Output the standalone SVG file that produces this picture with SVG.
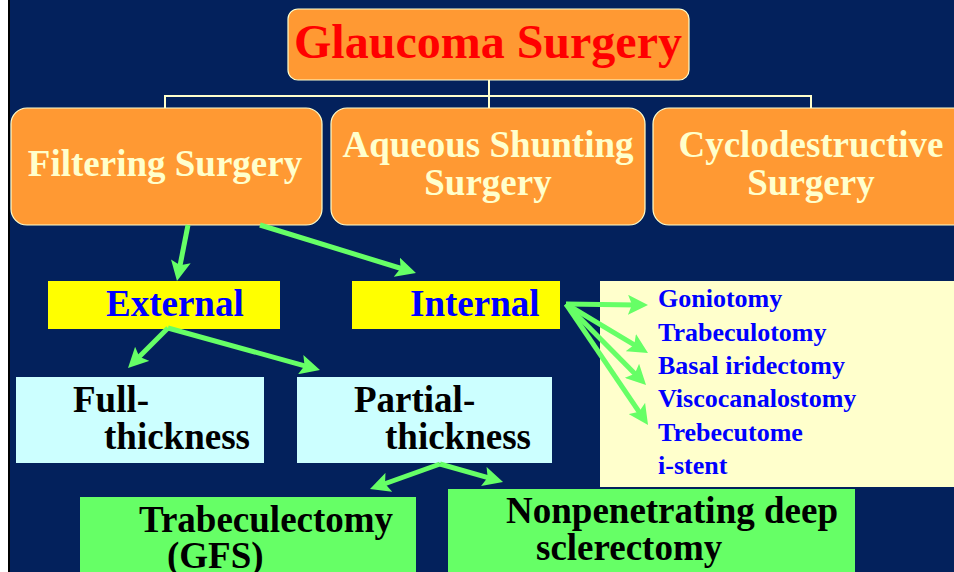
<svg xmlns="http://www.w3.org/2000/svg" width="954" height="572" viewBox="0 0 954 572">
<style>
  text { font-family: "Liberation Serif", "Times New Roman", serif; font-weight: bold; }
  .orange { fill: #FF9933; stroke: #FFFFCC; stroke-width: 1.2; }
  .otext { fill: #FFFFCC; font-size: 37px; text-anchor: middle; }
  .yellow { fill: #FFFF00; }
  .btext { fill: #0000FF; font-size: 37px; }
  .cyan { fill: #CCFFFF; }
  .green { fill: #66FF66; }
  .ktext { fill: #000000; font-size: 37px; }
  .list { fill: #0000FF; font-size: 26px; }
  .tree { fill: none; stroke: #FFFFCC; stroke-width: 2; }
  .arrow { fill: none; stroke: #66FF66; stroke-width: 5; marker-end: url(#head); }
</style>
<defs>
  <marker id="head" markerUnits="userSpaceOnUse" markerWidth="20" markerHeight="20" refX="8" refY="10" orient="auto" viewBox="0 0 20 20">
    <path d="M0,0 L20,10 L0,20 L4,10 z" fill="#66FF66"/>
  </marker>
</defs>
<rect x="0" y="0" width="954" height="572" fill="#03215C"/>
<rect x="0" y="0" width="8" height="572" fill="#FFFFFF"/>
<rect x="8" y="0" width="2" height="572" fill="#000000"/>

<g id="glaucoma-surgery">
  <rect class="orange" x="288" y="9" width="401" height="71" rx="10"/>
  <text x="488" y="58" font-size="48" fill="#FF0000" text-anchor="middle">Glaucoma Surgery</text>
</g>

<g id="filtering-surgery">
  <rect class="orange" x="11" y="108" width="311" height="117" rx="16"/>
  <text class="otext" x="165" y="176">Filtering Surgery</text>
</g>

<g id="aqueous-shunting">
  <rect class="orange" x="331" y="108" width="314" height="117" rx="16"/>
  <text class="otext" x="488" y="157">Aqueous Shunting</text>
  <text class="otext" x="488" y="195">Surgery</text>
</g>

<g id="cyclodestructive">
  <rect class="orange" x="653" y="108" width="320" height="117" rx="16"/>
  <text class="otext" x="811" y="157">Cyclodestructive</text>
  <text class="otext" x="811" y="195">Surgery</text>
</g>

<g id="external">
  <rect class="yellow" x="48" y="281" width="232" height="48"/>
  <text class="btext" x="106" y="316">External</text>
</g>

<g id="internal">
  <rect class="yellow" x="352" y="281" width="208" height="48"/>
  <text class="btext" x="410" y="316">Internal</text>
</g>

<g id="internal-list">
  <rect x="600" y="281" width="354" height="206" fill="#FFFFCC"/>
  <text class="list" x="658" y="307">Goniotomy</text>
  <text class="list" x="658" y="341">Trabeculotomy</text>
  <text class="list" x="658" y="374">Basal iridectomy</text>
  <text class="list" x="658" y="407">Viscocanalostomy</text>
  <text class="list" x="658" y="441">Trebecutome</text>
  <text class="list" x="658" y="474">i-stent</text>
</g>

<g id="full-thickness">
  <rect class="cyan" x="16" y="377" width="248" height="86"/>
  <text class="ktext" x="73" y="412">Full-</text>
  <text class="ktext" x="104" y="449">thickness</text>
</g>

<g id="partial-thickness">
  <rect class="cyan" x="297" y="377" width="255" height="86"/>
  <text class="ktext" x="354" y="412">Partial-</text>
  <text class="ktext" x="385" y="449">thickness</text>
</g>

<g id="trabeculectomy">
  <rect class="green" x="80" y="497" width="336" height="80"/>
  <text class="ktext" x="139" y="532">Trabeculectomy</text>
  <text class="ktext" x="167" y="568">(GFS)</text>
</g>

<g id="nonpenetrating">
  <rect class="green" x="448" y="489" width="407" height="88"/>
  <text class="ktext" x="506" y="523">Nonpenetrating deep</text>
  <text class="ktext" x="536" y="560">sclerectomy</text>
</g>

<g id="connectors">
  <path class="tree" d="M489,80 V96 M165,108 V96 H811 V108 M489,96 V108"/>
  <line class="arrow" x1="188" y1="225" x2="179.3" y2="269.2"/>
  <line class="arrow" x1="260" y1="225" x2="404.5" y2="269.5"/>
  <line class="arrow" x1="168" y1="328" x2="136.5" y2="359.5"/>
  <line class="arrow" x1="168" y1="328" x2="308.4" y2="366.8"/>
  <line class="arrow" x1="566" y1="304" x2="636" y2="304.9"/>
  <line class="arrow" x1="566" y1="304" x2="637.7" y2="346.8"/>
  <line class="arrow" x1="566" y1="304" x2="637.6" y2="376.5"/>
  <line class="arrow" x1="566" y1="304" x2="641.3" y2="415.1"/>
  <line class="arrow" x1="440" y1="464" x2="381.3" y2="485"/>
  <line class="arrow" x1="440" y1="464" x2="491.5" y2="478.7"/>
</g>
</svg>
